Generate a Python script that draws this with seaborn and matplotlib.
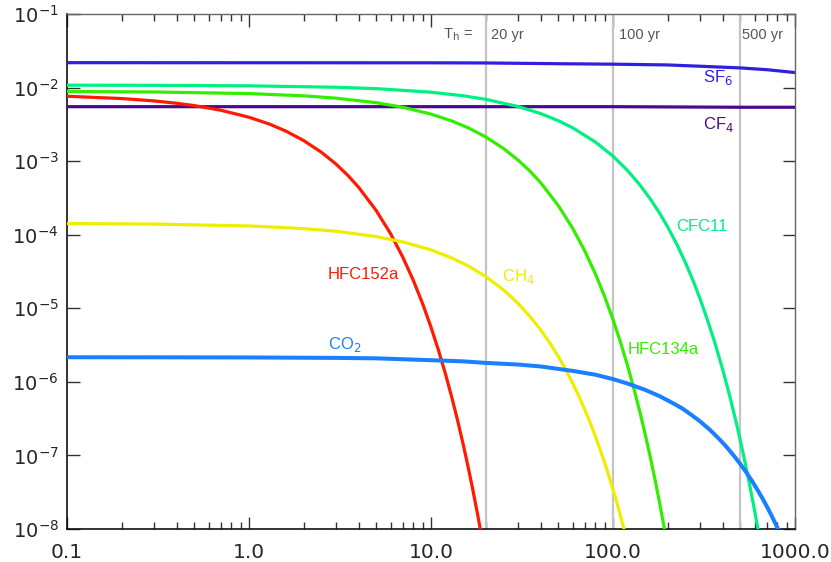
import numpy as np
import matplotlib
matplotlib.use("Agg")
import matplotlib.pyplot as plt
from matplotlib.ticker import LogLocator, NullLocator, FixedLocator
import seaborn as sns

# values (time horizon in yr vs response)
sf6_x = [0.1, 10, 20, 50, 100, 200, 300, 500, 700, 1000]
sf6_y = [0.0218, 0.0217, 0.0216, 0.0211, 0.0208, 0.0203, 0.0195, 0.0185, 0.0175, 0.0160]

cf4_x = [0.1, 10, 100, 500, 1000]
cf4_y = [0.0055, 0.0055, 0.0055, 0.0054, 0.0054]

cfc11_x = [0.1, 0.3, 1, 3, 5, 10, 15, 20, 30, 40, 50, 60, 80, 100, 120, 140, 160,
           180, 200, 225, 250, 275, 300, 330, 360, 400, 440, 480, 520, 560, 600, 640]
cfc11_y = [0.01078, 0.01073, 0.01056, 0.01010, 0.00967, 0.00865, 0.00774, 0.00692,
           0.00554, 0.00444, 0.00355, 0.00284, 0.00182, 0.00117, 7.49e-4, 4.80e-4,
           3.08e-4, 1.98e-4, 1.27e-4, 7.28e-5, 4.18e-5, 2.40e-5, 1.37e-5, 7.0e-6,
           3.62e-6, 1.49e-6, 6.14e-7, 2.53e-7, 1.04e-7, 4.29e-8, 1.77e-8, 7.3e-9]

hfc134a_x = [0.1, 0.3, 1, 2, 3, 5, 7, 10, 13, 16, 20, 25, 30, 35, 40, 50, 60, 70,
             80, 90, 100, 110, 120, 130, 140, 150, 160, 170, 180, 190, 200]
hfc134a_y = [0.00884, 0.00871, 0.00829, 0.00772, 0.00718, 0.00623, 0.00540, 0.00436,
             0.00352, 0.00284, 0.00213, 0.00149, 0.00104, 7.31e-4, 5.11e-4, 2.50e-4,
             1.225e-4, 6.0e-5, 2.94e-5, 1.44e-5, 7.03e-6, 3.44e-6, 1.69e-6, 8.25e-7,
             4.04e-7, 1.98e-7, 9.7e-8, 4.74e-8, 2.32e-8, 1.13e-8, 5.6e-9]

hfc152a_x = [0.1, 0.2, 0.3, 0.4, 0.5, 0.7, 1.0, 1.3, 1.6, 2.0, 2.5, 3.0, 3.5, 4.0,
             5, 6, 7, 8, 9, 10, 11, 12, 13, 14, 15, 16, 17, 18, 19]
hfc152a_y = [0.00762, 0.00709, 0.00659, 0.00612, 0.00569, 0.00492, 0.00395, 0.00318,
             0.00255, 0.00190, 0.00132, 9.18e-4, 6.37e-4, 4.42e-4, 2.13e-4, 1.03e-4,
             4.95e-5, 2.39e-5, 1.15e-5, 5.54e-6, 2.67e-6, 1.29e-6, 6.2e-7, 2.99e-7,
             1.44e-7, 6.95e-8, 3.35e-8, 1.62e-8, 7.8e-9]

ch4_x = [0.1, 0.3, 1, 2, 3, 5, 7, 10, 13, 16, 20, 25, 30, 35, 40, 45, 50, 55, 60,
         65, 70, 75, 80, 85, 90, 95, 100, 105, 110, 115, 120]
ch4_y = [1.418e-4, 1.395e-4, 1.316e-4, 1.210e-4, 1.114e-4, 9.44e-5, 7.98e-5, 6.22e-5,
         4.83e-5, 3.77e-5, 2.70e-5, 1.78e-5, 1.174e-5, 7.74e-6, 5.11e-6, 3.37e-6,
         2.22e-6, 1.466e-6, 9.64e-7, 6.36e-7, 4.19e-7, 2.77e-7, 1.82e-7, 1.20e-7,
         7.94e-8, 5.23e-8, 3.45e-8, 2.28e-8, 1.50e-8, 9.9e-9, 6.5e-9]

co2_x = [0.1, 0.3, 1, 3, 5, 10, 15, 20, 30, 40, 50, 60, 80, 100, 120, 150, 180, 210,
         240, 270, 300, 340, 380, 420, 460, 500, 540, 580, 620, 660, 700, 740, 780, 820]
co2_y = [2.16e-6, 2.156e-6, 2.146e-6, 2.117e-6, 2.089e-6, 1.97e-6, 1.90e-6, 1.81e-6,
         1.72e-6, 1.62e-6, 1.50e-6, 1.41e-6, 1.25e-6, 1.09e-6, 9.5e-7, 7.8e-7, 6.4e-7,
         5.25e-7, 4.36e-7, 3.55e-7, 2.92e-7, 2.24e-7, 1.71e-7, 1.31e-7, 1.00e-7,
         7.67e-8, 5.88e-8, 4.51e-8, 3.45e-8, 2.65e-8, 2.03e-8, 1.555e-8, 1.19e-8, 9.1e-9]

th_years = [20, 100, 500]
th_labels = ["20 yr", "100 yr", "500 yr"]

xticks = [0.1, 1, 10, 100, 1000]
xtick_labels = ["0.1", "1.0", "10.0", "100.0", "1000.0"]
yticks = [1e-8, 1e-7, 1e-6, 1e-5, 1e-4, 1e-3, 1e-2, 1e-1]
ytick_labels = ["$10^{-8}$", "$10^{-7}$", "$10^{-6}$", "$10^{-5}$", "$10^{-4}$",
                "$10^{-3}$", "$10^{-2}$", "$10^{-1}$"]

# name, x, y, colour, width, label text, label position
series = [
    ("SF6", sf6_x, sf6_y, "#3020dc", 2.3, "SF$_6$", (312, 0.0139)),
    ("CF4", cf4_x, cf4_y, "#4b0a8c", 2.3, "CF$_4$", (312, 3.1e-3)),
    ("CFC11", cfc11_x, cfc11_y, "#00f082", 2.3, "CFC11", (222, 1.29e-4)),
    ("HFC134a", hfc134a_x, hfc134a_y, "#33ee00", 2.3, "HFC134a", (121, 2.72e-6)),
    ("HFC152a", hfc152a_x, hfc152a_y, "#ff1a00", 2.3, "HFC152a", (2.72, 2.84e-5)),
    ("CH4", ch4_x, ch4_y, "#eeee00", 2.3, "CH$_4$", (24.4, 2.7e-5)),
    ("CO2", co2_x, co2_y, "#1a80ff", 2.9, "CO$_2$", (2.72, 3.18e-6)),
]

sns.set_style("ticks")
plt.rcParams['font.family'] = ['DejaVu Sans']

fig = plt.figure(figsize=(8.31, 5.62), dpi=100)
ax = fig.add_axes([67 / 831, 33 / 562, 728 / 831, 515 / 562])

for xv in th_years:
    ax.axvline(xv, color="#c4c4c4", lw=1.6, zorder=1)

for name, xs, ys, col, lw, lab, pos in series:
    sns.lineplot(x=xs, y=ys, ax=ax, color=col, lw=lw, zorder=3)
    ax.text(pos[0], pos[1], lab, color=col, fontsize=12, ha="left", va="center",
            family="Liberation Sans", zorder=4)

ax.text(11.6, 0.052, r"T$_\mathrm{h}$ =", color="#555555", fontsize=10.5, ha="left",
        va="center", family="Liberation Sans")
for xv, lab, xpos in zip(th_years, th_labels, [21.4, 108, 509]):
    ax.text(xpos, 0.052, lab, color="#555555", fontsize=10.5, ha="left",
            va="center", family="Liberation Sans")

ax.set_xscale("log")
ax.set_yscale("log")
ax.set_xlim(0.1, 1000)
ax.set_ylim(1e-8, 1e-1)

ax.xaxis.set_major_locator(FixedLocator(xticks))
ax.set_xticklabels(xtick_labels, fontsize=14.5)
ax.xaxis.set_minor_locator(LogLocator(base=10, subs=np.arange(2, 10)))
ax.yaxis.set_major_locator(FixedLocator(yticks))
ax.set_yticklabels(ytick_labels, fontsize=14)
ax.yaxis.set_minor_locator(NullLocator())

ax.tick_params(which="both", direction="in", top=True, right=True,
               color="#333333", width=1.0)
ax.tick_params(which="major", length=9)
ax.tick_params(which="minor", length=5)
ax.tick_params(axis="x", pad=10)
ax.tick_params(axis="y", pad=6)

for side in ["left", "bottom"]:
    ax.spines[side].set_color("#111111")
    ax.spines[side].set_linewidth(1.2)
for side in ["top", "right"]:
    ax.spines[side].set_color("#666666")
    ax.spines[side].set_linewidth(1.0)

fig.savefig("out.png", dpi=100)
